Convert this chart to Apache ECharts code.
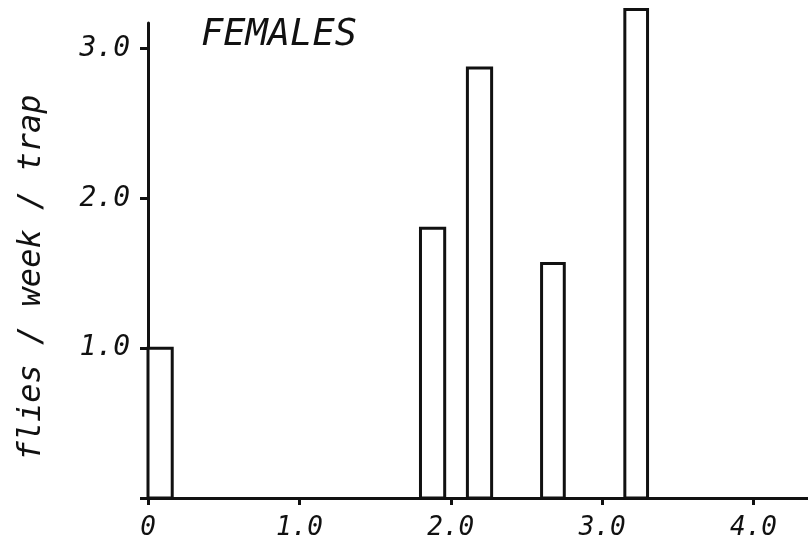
<!DOCTYPE html>
<html>
<head>
<meta charset="utf-8">
<script src="https://cdn.jsdelivr.net/npm/echarts@6/dist/echarts.min.js"></script>
<style>
  html, body { margin: 0; padding: 0; background: #fff; }
  #main { width: 808px; height: 551px; }
</style>
</head>
<body>
<div id="main"></div>
<script>
// bar start / end on the x scale and bar heights (flies/week/trap)
var binStart = [0.0, 1.80, 2.11, 2.60, 3.15]
var binEnd = [0.16, 1.96, 2.27, 2.75, 3.30]
var binValue = [1.0, 1.80, 2.87, 1.565, 3.26]

var xTickValues = [0, 1, 2, 3, 4]
var xTickLabels = ['0', '1.0', '2.0', '3.0', '4.0']
var yTickValues = [0, 1, 2, 3]
var yTickLabels = ['', '1.0', '2.0', '3.0']

var ink = '#111'
var font = 'DejaVu Sans Mono'

var data = []
for (var i = 0; i < binValue.length; i++) {
  data.push([binStart[i], binEnd[i], binValue[i]])
}

function labelFor (values, labels) {
  return function (v) {
    for (var k = 0; k < values.length; k++) {
      if (Math.abs(values[k] - v) < 1e-6) return labels[k]
    }
    return ''
  }
}

var chart = echarts.init(document.getElementById('main'), null, { renderer: 'canvas' })

chart.setOption({
  backgroundColor: '#fff',
  animation: false,
  title: {
    text: 'FEMALES',
    left: 196,
    top: 12,
    textStyle: { fontFamily: font, fontStyle: 'italic', fontWeight: 'normal', fontSize: 37, color: ink }
  },
  grid: { left: 148, right: 0, top: 23, bottom: 53 },
  xAxis: {
    type: 'value',
    min: 0,
    max: 4.36,
    interval: 1,
    splitLine: { show: false },
    axisLine: { lineStyle: { color: ink, width: 3 } },
    axisTick: { show: true, inside: false, length: 7, lineStyle: { color: ink, width: 3 }, customValues: xTickValues },
    axisLabel: {
      customValues: xTickValues,
      formatter: labelFor(xTickValues, xTickLabels),
      margin: 17,
      fontFamily: font, fontStyle: 'italic', fontSize: 26, color: ink
    }
  },
  yAxis: {
    type: 'value',
    min: 0,
    max: 3.17,
    interval: 1,
    name: 'flies / week / trap',
    nameLocation: 'middle',
    nameGap: 100,
    nameTextStyle: { fontFamily: font, fontStyle: 'italic', fontSize: 32, color: ink, padding: [0, 34, 0, 0] },
    splitLine: { show: false },
    axisLine: { lineStyle: { color: ink, width: 3 } },
    axisTick: { show: true, length: 8, lineStyle: { color: ink, width: 3 }, customValues: yTickValues },
    axisLabel: {
      customValues: yTickValues,
      formatter: labelFor(yTickValues, yTickLabels),
      margin: 18,
      fontFamily: font, fontStyle: 'italic', fontSize: 28, color: ink
    }
  },
  series: [{
    type: 'custom',
    clip: false,
    data: data,
    encode: { x: [0, 1], y: 2 },
    renderItem: function (params, api) {
      var p0 = api.coord([api.value(0), api.value(2)])
      var p1 = api.coord([api.value(1), 0])
      return {
        type: 'rect',
        shape: { x: p0[0], y: p0[1], width: p1[0] - p0[0], height: p1[1] - p0[1] },
        style: { fill: '#fff', stroke: ink, lineWidth: 3 }
      }
    }
  }]
})
</script>
</body>
</html>
